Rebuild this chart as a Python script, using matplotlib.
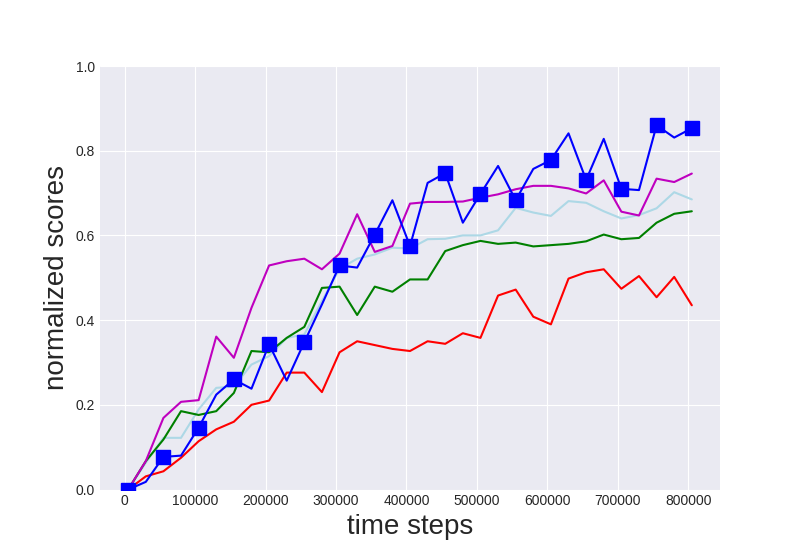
"""
normalized scores vs time steps
"""
import matplotlib
matplotlib.use('Agg')
import matplotlib.pyplot as plt

time_steps = [5000, 30000, 55000, 80000, 105000, 130000, 155000, 180000, 205000,
              230000, 255000, 280000, 305000, 330000, 355000, 380000, 405000,
              430000, 455000, 480000, 505000, 530000, 555000, 580000, 605000,
              630000, 655000, 680000, 705000, 730000, 755000, 780000, 805000]

red = [0.0, 0.031, 0.043, 0.075, 0.114, 0.142, 0.160, 0.200, 0.210, 0.276, 0.276,
       0.230, 0.324, 0.350, 0.341, 0.332, 0.327, 0.350, 0.344, 0.369, 0.358,
       0.458, 0.472, 0.408, 0.390, 0.498, 0.513, 0.520, 0.474, 0.504, 0.454,
       0.502, 0.435]
green = [0.0, 0.067, 0.118, 0.185, 0.176, 0.185, 0.228, 0.327, 0.324, 0.358, 0.384,
         0.476, 0.479, 0.412, 0.479, 0.467, 0.496, 0.496, 0.563, 0.577, 0.587,
         0.580, 0.583, 0.574, 0.577, 0.580, 0.586, 0.602, 0.591, 0.594, 0.630,
         0.651, 0.657]
light_blue = [0.0, 0.063, 0.122, 0.122, 0.189, 0.240, 0.243, 0.295, 0.315, 0.358,
              0.366, 0.445, 0.521, 0.545, 0.555, 0.571, 0.569, 0.591, 0.592, 0.600,
              0.600, 0.612, 0.665, 0.654, 0.646, 0.681, 0.677, 0.657, 0.640, 0.648,
              0.664, 0.702, 0.685]
magenta = [0.0, 0.067, 0.169, 0.207, 0.211, 0.361, 0.311, 0.429, 0.529, 0.539, 0.545,
           0.520, 0.557, 0.650, 0.561, 0.575, 0.675, 0.679, 0.679, 0.680, 0.689,
           0.697, 0.709, 0.717, 0.717, 0.711, 0.699, 0.730, 0.656, 0.647, 0.734,
           0.726, 0.746]
blue = [0.0, 0.018, 0.077, 0.080, 0.146, 0.224, 0.260, 0.238, 0.343, 0.257, 0.348,
        0.437, 0.529, 0.524, 0.602, 0.683, 0.575, 0.724, 0.747, 0.630, 0.698,
        0.764, 0.683, 0.757, 0.778, 0.841, 0.731, 0.828, 0.710, 0.707, 0.860,
        0.831, 0.853]

plt.style.use('seaborn-v0_8-darkgrid')
plt.rcParams['font.family'] = ['Liberation Sans', 'DejaVu Sans']

fig, ax = plt.subplots(figsize=(8, 5.5), dpi=100)

ax.plot(time_steps, red, color='r')
ax.plot(time_steps, light_blue, color='lightblue')
ax.plot(time_steps, green, color='g')
ax.plot(time_steps, magenta, color='m')
ax.plot(time_steps, blue, color='b', marker='s', markersize=10, markevery=2)

ax.set_ylim(0, 1.0)
ax.set_xlabel('time steps', fontsize=20)
ax.set_ylabel('normalized scores', fontsize=20)

plt.savefig('out.png', dpi=100)
